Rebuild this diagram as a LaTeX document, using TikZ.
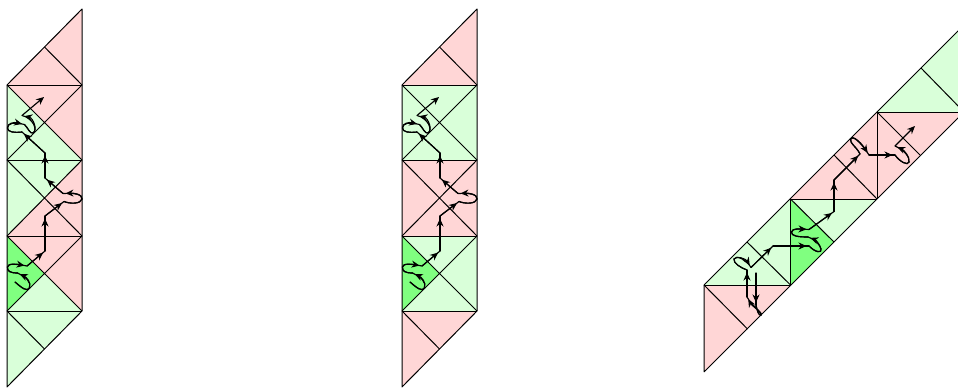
\documentclass[tikz,border=0pt]{standalone}
\usetikzlibrary{arrows.meta}
\definecolor{pk}{HTML}{FFD6D6}
\definecolor{lg}{HTML}{D9FFD9}
\definecolor{bg}{HTML}{80FF80}
\tikzset{
  edge/.style={line width=1pt,black,line join=round},
  flowplain/.style={line width=1.15pt,black,line cap=round},
  flow/.style={line width=1.15pt,black,shorten >=2.5pt,-{Stealth[length=8pt,width=7pt,inset=2.6pt]}},
  flowend/.style={line width=1.15pt,black,-{Stealth[length=8pt,width=7pt,inset=2.6pt]}},
}
\newcommand{\seg}[1]{\draw[flowplain] #1; \draw[flow] #1;}
\newcommand{\armpath}{%
  \seg{(15,282) .. controls (22,288) and (27,292) .. (29.5,288) .. controls (31.5,282) and (26,277) .. (17.5,273)}
  \seg{(17.5,273) .. controls (10,273) and (7,271) .. (7.5,267) .. controls (8,263) and (16,264) .. (27,266)}
  \seg{(27,266) -- (45,251)}
  \seg{(45,251) -- (45,216)}
  \seg{(45,216) -- (64,201.5)}
  \seg{(64,201.5) .. controls (70,204) and (81,204) .. (82,199) .. controls (82.5,194) and (74,193) .. (63,193.5)}
  \seg{(63,193.5) -- (45,178)}
  \seg{(45,178) -- (45,153)}
  \seg{(45,153) -- (22,132)}
  \seg{(22,132) .. controls (14,133) and (7.5,132) .. (7.5,128) .. controls (7.5,123) and (14,122) .. (24.5,124.5)}
  \seg{(24.5,124.5) .. controls (28,128) and (30,134) .. (33,133) .. controls (38,130) and (33,118) .. (22,115.5)}
  \draw[flowend] (22,115.5) -- (44,97);
}
\newcommand{\strip}{%
  \draw[edge] (7,85) -- (82,9) -- (82,311) -- (7,387) -- cycle;
  \foreach \y in {85,160,236,311} \draw[edge] (7,\y) -- (82,\y);
  \draw[edge] (7,85) -- (82,160) (7,160) -- (82,85);
  \draw[edge] (7,160) -- (82,236) (7,236) -- (82,160);
  \draw[edge] (7,236) -- (82,311) (7,311) -- (82,236);
  \draw[edge] (44.5,47) -- (82,85);
  \draw[edge] (7,311) -- (44.5,349);
}
\begin{document}
\begin{tikzpicture}[x=1pt,y=-1pt]
\useasboundingbox (0,0) rectangle (958,388);
\clip (0,0) rectangle (958,388);
% ---- panel 1
\fill[pk] (7,85) -- (82,9) -- (82,85) -- cycle;
\fill[pk] (7,85) -- (82,85) -- (44.5,122.5) -- cycle;
\fill[pk] (82,85) -- (82,160) -- (44.5,122.5) -- cycle;
\fill[lg] (7,85) -- (7,160) -- (82,160) -- cycle;
\fill[lg] (7,160) -- (82,160) -- (44.5,198) -- cycle;
\fill[lg] (7,160) -- (7,236) -- (44.5,198) -- cycle;
\fill[pk] (82,160) -- (82,236) -- (7,236) -- cycle;
\fill[pk] (7,236) -- (82,236) -- (82,311) -- cycle;
\fill[bg] (7,236) -- (7,311) -- (44.5,273.5) -- cycle;
\fill[lg] (7,311) -- (82,311) -- (44.5,273.5) -- cycle;
\fill[lg] (7,311) -- (82,311) -- (7,387) -- cycle;
\strip
\armpath
% ---- panel 2
\begin{scope}[shift={(395,0)}]
\fill[pk] (7,85) -- (82,9) -- (82,85) -- cycle;
\fill[lg] (7,85) rectangle (82,160);
\fill[pk] (7,160) rectangle (82,236);
\fill[lg] (7,236) rectangle (82,311);
\fill[bg] (7,236) -- (7,311) -- (44.5,273.5) -- cycle;
\fill[pk] (7,311) -- (82,311) -- (7,387) -- cycle;
\strip
\armpath
\end{scope}
% ---- panel 3
\fill[pk] (704,285) -- (790.5,285) -- (704,372) -- cycle;
\fill[lg] (704,285) -- (790.5,199) -- (790.5,285) -- cycle;
\fill[bg] (790.5,199) -- (790.5,285) -- (834,242) -- cycle;
\fill[lg] (790.5,199) -- (877,199) -- (834,242) -- cycle;
\fill[pk] (790.5,199) -- (877,112) -- (877,199) -- cycle;
\fill[pk] (877,112) -- (964,112) -- (877,199) -- cycle;
\fill[lg] (877,112) -- (964,25) -- (964,112) -- cycle;
\draw[edge] (704,285) -- (964,25) (704,372) -- (964,112) (704,285) -- (704,372);
\draw[edge] (704,285) -- (790.5,285) (790.5,199) -- (877,199) (877,112) -- (964,112);
\draw[edge] (790.5,199) -- (790.5,285) (877,112) -- (877,199);
\draw[edge] (704,285) -- (747.5,329);
\draw[edge] (747,242) -- (790.5,285);
\draw[edge] (790.5,199) -- (834,242);
\draw[edge] (834,155) -- (877,199);
\draw[edge] (877,112) -- (920,155);
\draw[edge] (921,68) -- (964,112);
% arrows
\seg{(756,273) -- (756,305)}
\seg{(756,305) .. controls (757,311) and (759,316) .. (761,315) .. controls (763,313) and (752,306) .. (747,297)}
\seg{(747,297) -- (747,270)}
\seg{(747,270) .. controls (741,268) and (733,263) .. (734,259) .. controls (736,255) and (746,259) .. (751,267.5)}
\seg{(751,267.5) -- (773,246)}
\seg{(773,246) -- (809,246)}
\seg{(809,246) .. controls (816,253) and (822,253) .. (821,249) .. controls (820,245) and (816,240) .. (808,237)}
\seg{(808,237) .. controls (798,237) and (791,236) .. (791.5,232) .. controls (792,228) and (800,229) .. (809,229.5)}
\seg{(809,229.5) -- (834,211.5)}
\seg{(834,211.5) -- (834,180)}
\seg{(834,180) -- (860,154)}
\seg{(860,154) .. controls (856,146) and (850,144) .. (850.5,139) .. controls (852,135) and (860,141) .. (869,155)}
\seg{(869,155) -- (895,155)}
\seg{(895,155) .. controls (900,162) and (908,166) .. (909,162) .. controls (910,157) and (904,150) .. (895,146)}
\draw[flowend] (895,146) -- (915,126);
\end{tikzpicture}
\end{document}
